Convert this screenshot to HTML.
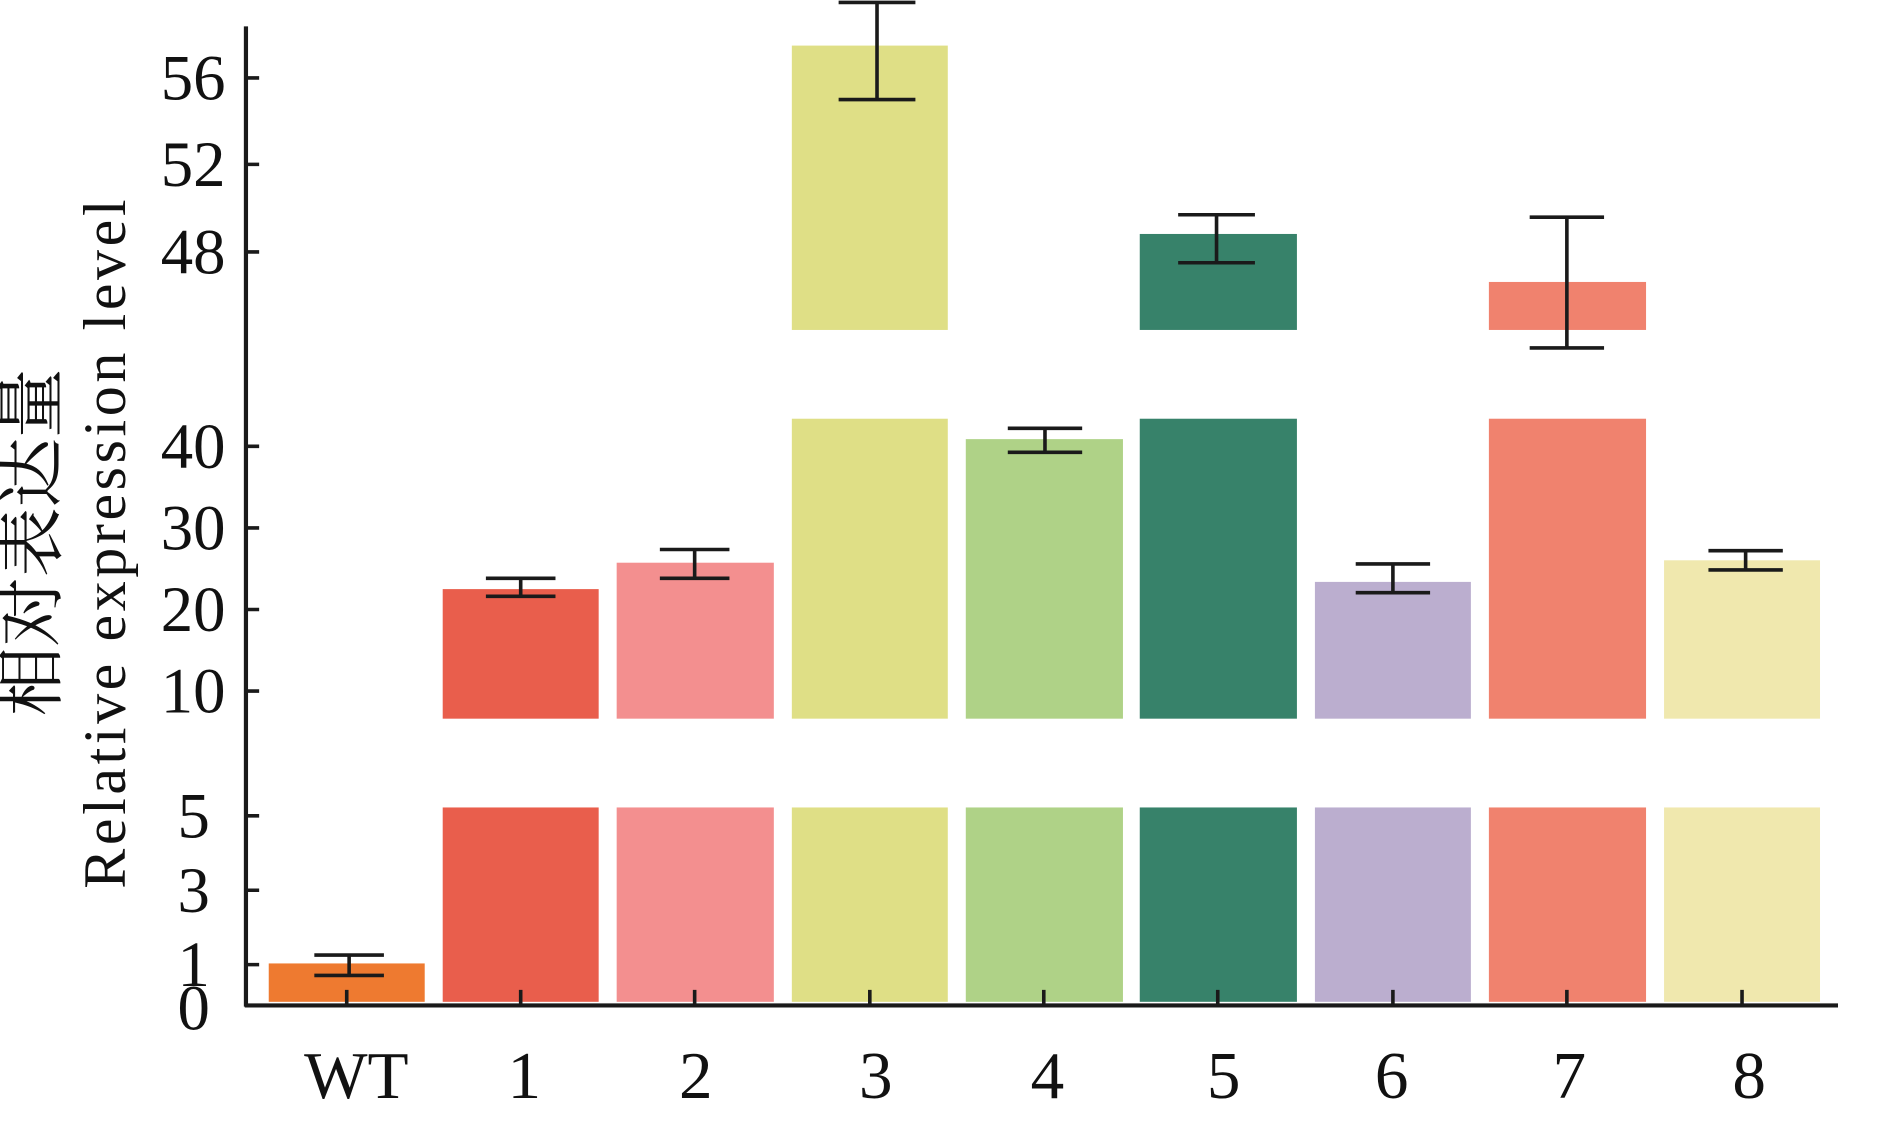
<!DOCTYPE html>
<html><head><meta charset="utf-8"><style>
html,body{margin:0;padding:0;background:#fff;}
svg{display:block;}
text{font-family:"Liberation Serif","Times New Roman",serif;fill:#111;}
</style></head><body>
<svg width="1880" height="1147" viewBox="0 0 1567 956" preserveAspectRatio="none">
<g>
<rect x="224" y="803" width="130" height="32" fill="#ee7a30"/>
<rect x="369" y="673" width="130" height="162" fill="#e95e4c"/>
<rect x="514" y="673" width="131" height="162" fill="#f38f8f"/>
<rect x="660" y="673" width="130" height="162" fill="#dfdf86"/>
<rect x="805" y="673" width="131" height="162" fill="#afd287"/>
<rect x="950" y="673" width="131" height="162" fill="#37826a"/>
<rect x="1096" y="673" width="130" height="162" fill="#bbaecf"/>
<rect x="1241" y="673" width="131" height="162" fill="#f0826e"/>
<rect x="1387" y="673" width="130" height="162" fill="#f0e8ae"/>
<rect x="369" y="491" width="130" height="108" fill="#e95e4c"/>
<rect x="514" y="469" width="131" height="130" fill="#f38f8f"/>
<rect x="660" y="349" width="130" height="250" fill="#dfdf86"/>
<rect x="805" y="366" width="131" height="233" fill="#afd287"/>
<rect x="950" y="349" width="131" height="250" fill="#37826a"/>
<rect x="1096" y="485" width="130" height="114" fill="#bbaecf"/>
<rect x="1241" y="349" width="131" height="250" fill="#f0826e"/>
<rect x="1387" y="467" width="130" height="132" fill="#f0e8ae"/>
<rect x="660" y="38" width="130" height="237" fill="#dfdf86"/>
<rect x="950" y="195" width="131" height="80" fill="#37826a"/>
<rect x="1241" y="235" width="131" height="40" fill="#f0826e"/>
</g>
<g stroke="#1a1a1a" stroke-width="3" fill="none">
<path d="M291 796V813M262 796H320M262 813H320"/>
<path d="M434 482V497M405 482H463M405 497H463"/>
<path d="M579 458V482M550 458H608M550 482H608"/>
<path d="M731 2V83M699 2H763M699 83H763"/>
<path d="M871 357V377M840 357H902M840 377H902"/>
<path d="M1014 179V219M982 179H1046M982 219H1046"/>
<path d="M1161 470V494M1130 470H1192M1130 494H1192"/>
<path d="M1306 181V290M1275 181H1337M1275 290H1337"/>
<path d="M1455 459V475M1424 459H1486M1424 475H1486"/>
<path d="M205 22V839M204 838H1532" stroke-width="3.5"/>
<path d="M205 65H216M205 137H216M205 210H216M205 372H216M205 440H216M205 508H216M205 576H216M205 680H216M205 742H216M205 804H216"/>
<path d="M289 825V838M434 825V838M579 825V838M725 825V838M870 825V838M1015 825V838M1161 825V838M1306 825V838M1452 825V838"/>
</g>
<g font-size="54" text-anchor="end" font-family="Liberation Serif, serif">
<text x="188" y="83">56</text>
<text x="188" y="155">52</text>
<text x="188" y="228">48</text>
<text x="188" y="390">40</text>
<text x="188" y="458">30</text>
<text x="188" y="526">20</text>
<text x="188" y="594">10</text>
<text x="175" y="698">5</text>
<text x="175" y="760">3</text>
<text x="175" y="822">1</text>
<text x="175" y="858">0</text>
</g>
<g font-size="56" text-anchor="middle" font-family="Liberation Serif, serif">
<text x="297" y="915">WT</text>
<text x="437" y="915">1</text>
<text x="580" y="915">2</text>
<text x="730" y="915">3</text>
<text x="873" y="915">4</text>
<text x="1020" y="915">5</text>
<text x="1160" y="915">6</text>
<text x="1308" y="915">7</text>
<text x="1458" y="915">8</text>
</g>
<text transform="translate(104,452) rotate(-90)" font-size="50" text-anchor="middle" letter-spacing="3" font-family="Liberation Serif, serif">Relative expression level</text>
<text transform="translate(46,452) rotate(-90)" font-size="58" text-anchor="middle" style="font-family:'Noto Serif CJK SC','Noto Sans CJK SC',serif">相对表达量</text>
</svg>
</body></html>
